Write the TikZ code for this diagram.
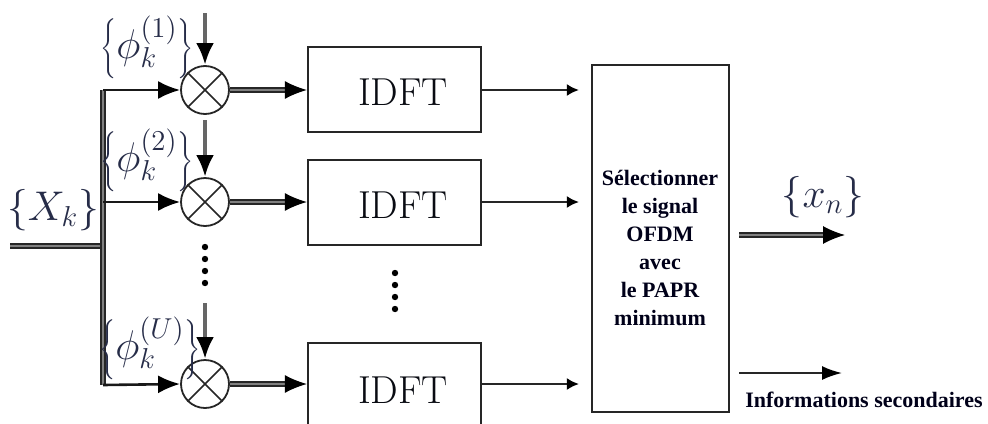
\documentclass[tikz,border=0pt]{standalone}
\usepackage{fontspec}
\newfontfamily\labelfont{Liberation Serif}
\usetikzlibrary{arrows.meta}
\definecolor{ink}{RGB}{38,44,72}
\begin{document}
\begin{tikzpicture}[x=0.5pt,y=-0.5pt,
  idft/.style={draw=black!85, line width=1.1pt, minimum width=86.5pt,
    minimum height=42.5pt, inner sep=0pt},
  idftlabel/.style={text=black!75!ink, font=\fontsize{19.5}{22}\selectfont},
  mult/.style={draw=black!85, circle, line width=0.9pt, minimum size=24pt, inner sep=0pt},
  mathlabel/.style={text=ink, font=\fontsize{19.5}{22}\selectfont, inner sep=0pt},
  boldlabel/.style={font=\labelfont\bfseries\fontsize{11}{14}\selectfont, text=black!90!blue, inner sep=0pt},
  dbl/.style={draw=black!85, double=black!50, double distance=1.2pt, line width=0.7pt},
  feed/.style={draw=black!90, line width=1.3pt},
  phase/.style={draw=black!60, line width=2.4pt},
  thin/.style={draw=black!85, line width=1pt},
  bigtip/.style={-{Latex[length=11pt,width=9pt,color=black]}},
  smalltip/.style={-{Latex[length=6pt,width=6pt,color=black]}}
]
\clip (0,0) rectangle (988,423);
\fill[white] (0,0) rectangle (988,423);

% multipliers
\node[mult] (m1) at (205,90) {};
\node[mult] (m2) at (205,202) {};
\node[mult] (m3) at (205,384) {};
\foreach \m in {m1,m2,m3}{
  \draw[black!85, line width=0.8pt] (\m.45) -- (\m.225) (\m.135) -- (\m.315);
}

% IDFT blocks
\node[idft] (i1) at (394.5,89.5) {};
\node[idft] (i2) at (394.5,202.5) {};
\node[idft] (i3) at (394.5,385.5) {};
\node[idftlabel] (t1) at (403,92) {IDFT};
\node[idftlabel] (t2) at (403,205) {IDFT};
\node[idftlabel] (t3) at (403,390) {IDFT};

% selection block
\node[draw=black!85, line width=1.1pt, minimum width=68.5pt, minimum height=173.5pt,
  inner sep=0pt] (sel) at (660.5,238.5) {};
\node[boldlabel, align=center] (seltext) at (660,248)
  {Sélectionner\\ le signal\\ OFDM\\ avec\\ le PAPR\\ minimum};

% input bus
\coordinate (xin) at (10,246);
\coordinate (bj) at (103,246);
\coordinate (btop) at (103,90);
\coordinate (bmid) at (103,202);
\coordinate (bbot) at (103,385);
\draw[dbl] (xin) -- (bj);
\draw[dbl] (btop) -- (bbot);
\draw[feed, bigtip] (btop) -- (m1.west);
\draw[feed, bigtip] (bmid) -- (m2.west);
\draw[feed, bigtip] (bbot) -- (m3.west);

% phase sequences
\coordinate (p1) at (205,13);
\coordinate (p2) at (205,120);
\coordinate (p3) at (205,303);
\draw[phase, bigtip] (p1) -- (m1.north);
\draw[phase, bigtip] (p2) -- (m2.north);
\draw[phase, bigtip] (p3) -- (m3.north);

% multipliers to IDFT
\draw[dbl, bigtip] (m1.east) -- (i1.west |- m1);
\draw[dbl, bigtip] (m2.east) -- (i2.west |- m2);
\draw[dbl, bigtip] (m3.east) -- (i3.west |- m3);

% IDFT to selection
\draw[thin, smalltip, shorten >=6pt] (i1.east |- m1) -- (sel.west |- m1);
\draw[thin, smalltip, shorten >=6pt] (i2.east |- m2) -- (sel.west |- m2);
\draw[thin, smalltip, shorten >=6pt] (i3.east |- m3) -- (sel.west |- m3);

% outputs
\coordinate (xo) at (845,235);
\coordinate (so) at (842,373);
\draw[dbl, bigtip, shorten <=4.5pt] (sel.east |- xo) -- (xo);
\draw[thin, -{Latex[length=10pt,width=7pt,color=black]}, shorten <=4.5pt] (sel.east |- so) -- (so);

% vertical ellipses
\foreach \y in {247,259,271,283} \fill (205,\y) circle (3.2);
\foreach \y in {273,285,297,309} \fill (395,\y) circle (3.2);

% labels
\node[mathlabel] (phi1) at (147,47) {$\left\{\phi_k^{(1)}\right\}$};
\node[mathlabel] (phi2) at (147,160) {$\left\{\phi_k^{(2)}\right\}$};
\node[mathlabel] (phiU) at (150,348) {$\left\{\phi_k^{(U)}\right\}$};
\node[mathlabel] (Xk) at (53,210) {$\{X_k\}$};
\node[mathlabel] (xn) at (823,197) {$\{x_n\}$};
\node[boldlabel] (info) at (864,400) {Informations secondaires};
\end{tikzpicture}
\end{document}
